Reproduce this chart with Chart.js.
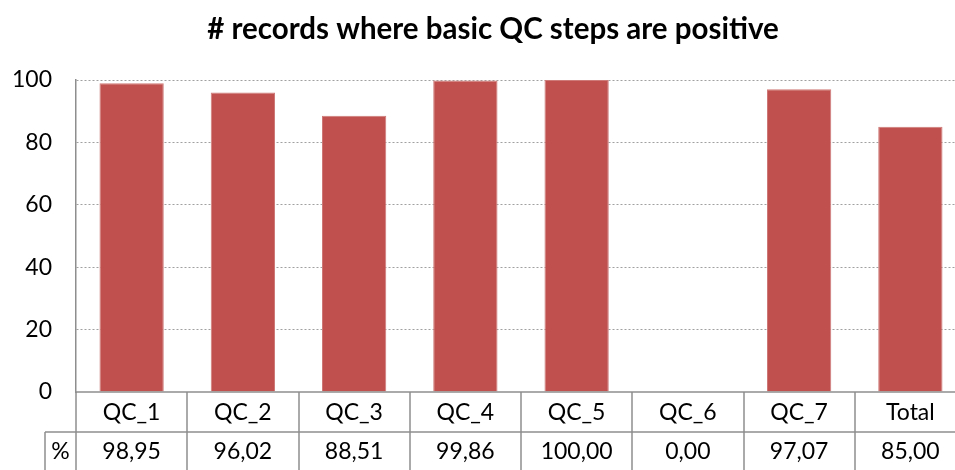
<!DOCTYPE html>
<html>
<head>
<meta charset="utf-8">
<script src="https://cdn.jsdelivr.net/npm/chart.js@4.4.1/dist/chart.umd.min.js"></script>
<style>
  html, body { margin: 0; padding: 0; background: #fff; overflow: hidden; }
  #wrap { position: relative; width: 966px; height: 470px; }
</style>
</head>
<body>
<div id="wrap"><canvas id="c"></canvas></div>
<script>
const chartTitle = '# records where basic QC steps are positive';
const categories = ['QC_1', 'QC_2', 'QC_3', 'QC_4', 'QC_5', 'QC_6', 'QC_7', 'Total'];
const percentValues = [98.95, 96.02, 88.51, 99.86, 100.00, 0.00, 97.07, 85.00];
const yTicks = [0, 20, 40, 60, 80, 100];
const rowLabel = '%';

const FONT = 'Lato, "Open Sans", sans-serif';
const LINE = '#8e8e8e';

function fmt(v) { return v.toFixed(2).replace('.', ','); }

const tablePlugin = {
  id: 'dataTable',
  afterDraw(chart) {
    const { ctx, chartArea, scales: { x } } = chart;
    const W = chart.width, H = chart.height;
    const top = chartArea.bottom;
    const mid = top + 40;
    const half = (x.getPixelForValue(1) - x.getPixelForValue(0)) / 2;
    ctx.save();
    // title
    ctx.fillStyle = '#000';
    ctx.font = 'bold 29.5px ' + FONT;
    ctx.textAlign = 'center';
    ctx.textBaseline = 'middle';
    ctx.fillText(chartTitle, 493, 29);
    // lines
    ctx.strokeStyle = LINE;
    ctx.lineWidth = 1.5;
    ctx.beginPath();
    ctx.moveTo(chartArea.left, top); ctx.lineTo(W, top);
    ctx.moveTo(45, mid); ctx.lineTo(W, mid);
    ctx.moveTo(45, mid); ctx.lineTo(45, H);
    for (let i = 0; i <= categories.length; i++) {
      const xb = Math.round(x.getPixelForValue(i) - half);
      ctx.moveTo(xb, top); ctx.lineTo(xb, H);
    }
    ctx.stroke();
    // texts
    ctx.fillStyle = '#000';
    ctx.font = '23px ' + FONT;
    categories.forEach((c, i) => {
      const cx = x.getPixelForValue(i);
      ctx.fillText(c, cx, top + 21);
      ctx.fillText(fmt(percentValues[i]), cx, mid + 20);
    });
    ctx.fillText(rowLabel, (45 + chartArea.left) / 2, mid + 20);
    ctx.restore();
  }
};

new Chart(document.getElementById('c'), {
  type: 'bar',
  data: {
    labels: categories,
    datasets: [{
      data: percentValues,
      backgroundColor: '#C0504D',
      borderColor: '#cd7a78',
      borderWidth: 1,
      barPercentage: 1,
      categoryPercentage: 0.578
    }]
  },
  options: {
    responsive: true,
    maintainAspectRatio: false,
    animation: false,
    layout: { padding: { top: 80, bottom: 78, left: 0, right: 0 } },
    plugins: { legend: { display: false }, title: { display: false }, tooltip: { enabled: false } },
    scales: {
      x: { display: false },
      y: {
        min: 0, max: 100,
        afterBuildTicks(s) { s.ticks = yTicks.map(v => ({ value: v })); },
        afterFit(s) { s.width = 76; },
        ticks: { color: '#000', font: { family: FONT, size: 23 }, padding: 24 },
        grid: {
          drawTicks: false,
          color: (c) => (c.tick && c.tick.value === 0) ? 'rgba(0,0,0,0)' : '#a0a0a0',
          lineWidth: 1
        },
        border: { display: true, color: LINE, width: 1.5, dash: [2, 2] }
      }
    }
  },
  plugins: [tablePlugin]
});
</script>
</body>
</html>
